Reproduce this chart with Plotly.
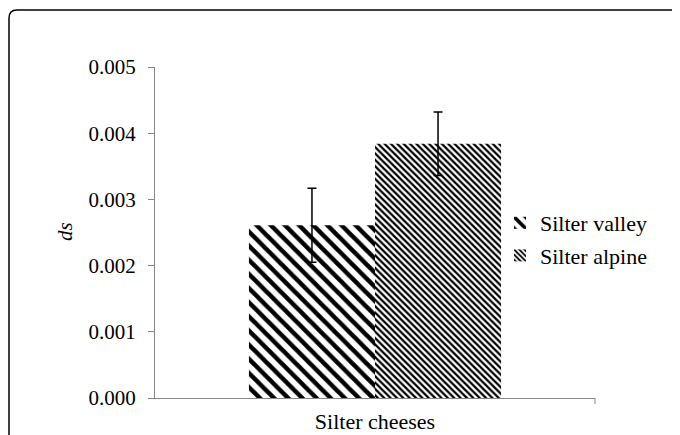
import plotly.graph_objects as go

categories = ["Silter cheeses"]
series_names = ["Silter valley", "Silter alpine"]
valley_values = [0.00261]
valley_err = [0.00056]
alpine_values = [0.00384]
alpine_err = [0.00048]
y_ticks = [0.000, 0.001, 0.002, 0.003, 0.004, 0.005]

W, H = 680, 435
OFF = 8  # page body margin
SL, ST = 155, 67          # plot area top-left on screen
pw, ph = 440, 331
L, T = SL - OFF, ST - OFF
R = W - L - pw
B = H - T - ph

def px(x):
    return (x - SL) / pw

def py(y):
    return (ST + ph - y) / ph

FAM = "Liberation Serif, Times New Roman, serif"
font = dict(family=FAM, size=21, color="#000")
font2 = dict(family=FAM, size=22, color="#000")

fig = go.Figure()
fig.add_trace(go.Bar(
    x=categories, y=valley_values, name=series_names[0], legendgroup="a",
    error_y=dict(type="data", array=valley_err, color="black", thickness=1.5, width=4.5),
    marker=dict(color="white", line=dict(width=0),
                pattern=dict(shape="\\", size=10, solidity=0.45, fgcolor="black", fgopacity=1,
                             bgcolor="white", fillmode="replace")),
))
fig.add_trace(go.Bar(
    x=categories, y=alpine_values, name=series_names[1], legendgroup="b",
    error_y=dict(type="data", array=alpine_err, color="black", thickness=1.5, width=4.5),
    marker=dict(color="white", line=dict(width=0),
                pattern=dict(shape="\\", size=4.5, solidity=0.5, fgcolor="black", fgopacity=1,
                             bgcolor="white", fillmode="replace")),
))

# rounded outer frame (left edge as far left as the canvas allows)
r = 8
x0, y0 = px(OFF + 1), py(10)
x1, y1 = px(720), py(470)
rx, ry = r / pw, r / ph
path = (f"M {x0},{y1} L {x0},{y0 - ry} Q {x0},{y0} {x0 + rx},{y0} "
        f"L {x1},{y0}")
shapes = [
    dict(type="path", xref="paper", yref="paper", path=path, line=dict(color="black", width=1.5), layer="above"),
    dict(type="line", xref="paper", yref="paper", x0=1, x1=1, y0=0, y1=-6 / ph, line=dict(color="#868686", width=1)),
]

fig.update_layout(
    width=W, height=H,
    margin=dict(l=L, r=R, t=T, b=B, autoexpand=False),
    paper_bgcolor="white", plot_bgcolor="white",
    barmode="group", bargap=0.427, bargroupgap=0,
    font=font,
    showlegend=True,
    legend=dict(x=px(500), y=py(202), xanchor="left", yanchor="top", tracegroupgap=1,
                bgcolor="rgba(0,0,0,0)", font=font2, itemwidth=30),
    shapes=shapes,
    annotations=[dict(text="<i>ds</i>", xref="paper", yref="paper", x=px(65), y=py(232),
                      xanchor="center", yanchor="middle",
                      showarrow=False, textangle=-90, font=dict(family=FAM, size=21, color="#000"))],
)
fig.update_xaxes(showline=True, linecolor="#868686", linewidth=1, ticks="", showgrid=False,
                 tickfont=font2, ticklabelstandoff=4, automargin=False)
fig.update_yaxes(range=[0, 0.005], tickvals=y_ticks, tickformat=".3f", showline=True, linecolor="#868686",
                 linewidth=1, ticks="outside", ticklen=6, tickcolor="#868686", showgrid=False,
                 zeroline=False, tickfont=font, ticklabelstandoff=8, automargin=False)

fig.write_html("out.html")
